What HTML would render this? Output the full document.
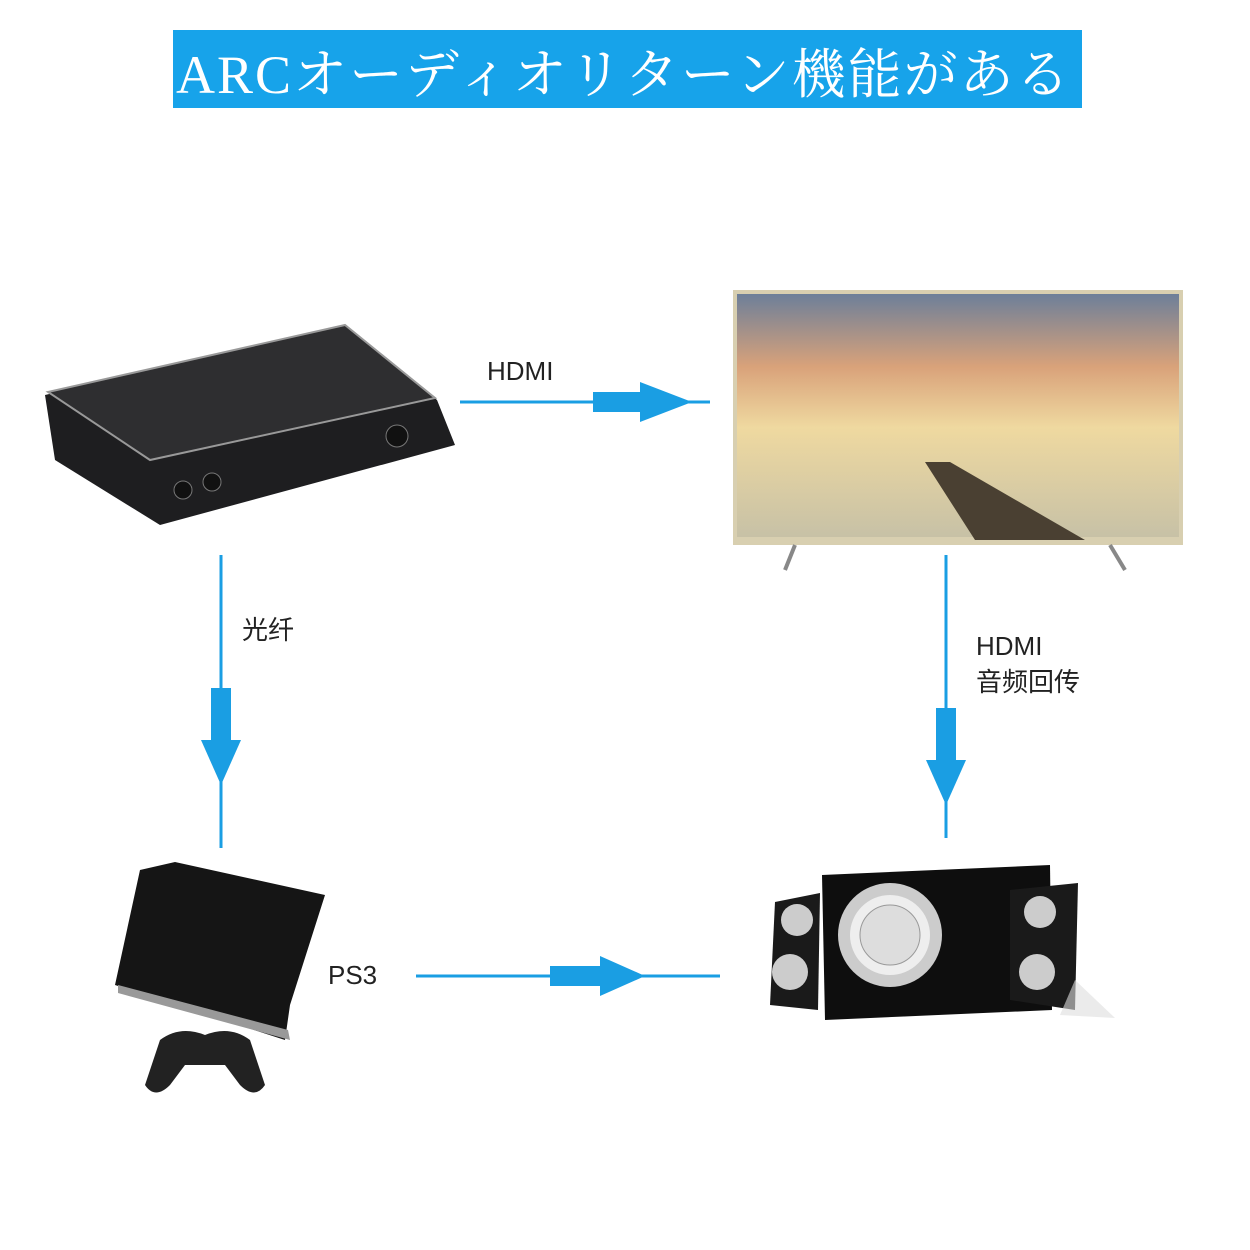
<!DOCTYPE html>
<html><head><meta charset="utf-8"><style>
body{margin:0;width:1250px;height:1250px;background:#fff;position:relative;overflow:hidden;font-family:"Liberation Sans","Noto Sans CJK SC",sans-serif}
.a{position:absolute}
.t{color:#222;font-size:26px}
</style></head><body>
<div class="a" style="left:173px;top:30px;width:909px;height:78px;background:#17a3ea"></div>
<div class="a" style="left:176px;top:32px;color:#fff;font-family:'Liberation Serif','Noto Serif CJK SC',serif;font-size:54px;letter-spacing:2px;white-space:nowrap">ARCオーディオリターン機能がある</div>

<svg class="a" style="left:0;top:0" width="1250" height="1250">
<g fill="#1a9ee3" stroke="#1a9ee3">
<line x1="460" y1="402" x2="710" y2="402" stroke-width="3"/>
<rect x="593" y="392" width="48" height="20" stroke="none"/>
<polygon points="640,382 692,402 640,422" stroke="none"/>
<line x1="221" y1="555" x2="221" y2="848" stroke-width="3"/>
<rect x="211" y="688" width="20" height="53" stroke="none"/>
<polygon points="201,740 241,740 221,785" stroke="none"/>
<line x1="946" y1="555" x2="946" y2="838" stroke-width="3"/>
<rect x="936" y="708" width="20" height="53" stroke="none"/>
<polygon points="926,760 966,760 946,805" stroke="none"/>
<line x1="416" y1="976" x2="720" y2="976" stroke-width="3"/>
<rect x="550" y="966" width="51" height="20" stroke="none"/>
<polygon points="600,956 645,976 600,996" stroke="none"/>
</g>
<polygon points="45,395 345,325 437,400 455,445 160,525 55,460" fill="#1e1e20"/>
<polygon points="48,392 345,325 435,398 150,460" fill="#2e2e30" stroke="#999" stroke-width="2"/>
<circle cx="397" cy="436" r="11" fill="#111" stroke="#777"/>
<circle cx="183" cy="490" r="9" fill="#111" stroke="#777"/>
<circle cx="212" cy="482" r="9" fill="#111" stroke="#777"/>
<defs><linearGradient id="sky" x1="0" y1="0" x2="0" y2="1">
<stop offset="0" stop-color="#6d7f99"/><stop offset="0.3" stop-color="#d9a27a"/><stop offset="0.55" stop-color="#efd9a0"/><stop offset="1" stop-color="#c7c1a6"/></linearGradient></defs>
<rect x="733" y="290" width="450" height="255" fill="#d8cfb0"/>
<rect x="737" y="294" width="442" height="243" fill="url(#sky)"/>
<polygon points="925,462 950,462 1085,540 975,540" fill="#4a4032"/>
<line x1="795" y1="545" x2="785" y2="570" stroke="#888" stroke-width="4"/>
<line x1="1110" y1="545" x2="1125" y2="570" stroke="#888" stroke-width="4"/>
<polygon points="140,870 175,862 325,895 290,1005 285,1040 115,985" fill="#151515"/>
<polygon points="118,985 288,1030 290,1040 118,993" fill="#999"/>
<path d="M160,1040 q20,-15 45,-5 q25,-10 45,5 l15,45 q-10,15 -25,0 l-15,-20 h-40 l-15,20 q-15,15 -25,0z" fill="#222"/>
<polygon points="822,875 1050,865 1052,1010 825,1020" fill="#0e0e0e"/>
<circle cx="890" cy="935" r="52" fill="#ccc"/><circle cx="890" cy="935" r="40" fill="#eee"/><circle cx="890" cy="935" r="30" fill="#ddd" stroke="#999"/>
<polygon points="775,902 820,893 818,1010 770,1005" fill="#1a1a1a"/>
<circle cx="797" cy="920" r="16" fill="#ccc"/><circle cx="790" cy="972" r="18" fill="#ccc"/>
<polygon points="1010,890 1078,883 1075,1010 1010,1000" fill="#1a1a1a"/>
<circle cx="1040" cy="912" r="16" fill="#ccc"/><circle cx="1037" cy="972" r="18" fill="#ccc"/>
<polygon points="1075,980 1115,1018 1060,1015" fill="#ddd" opacity="0.6"/>
</svg>

<div class="a t" style="left:487px;top:356px">HDMI</div>
<div class="a t" style="left:242px;top:610px">光纤</div>
<div class="a t" style="left:976px;top:628px;line-height:36px">HDMI<br>音频回传</div>
<div class="a t" style="left:328px;top:960px">PS3</div>
</body></html>
